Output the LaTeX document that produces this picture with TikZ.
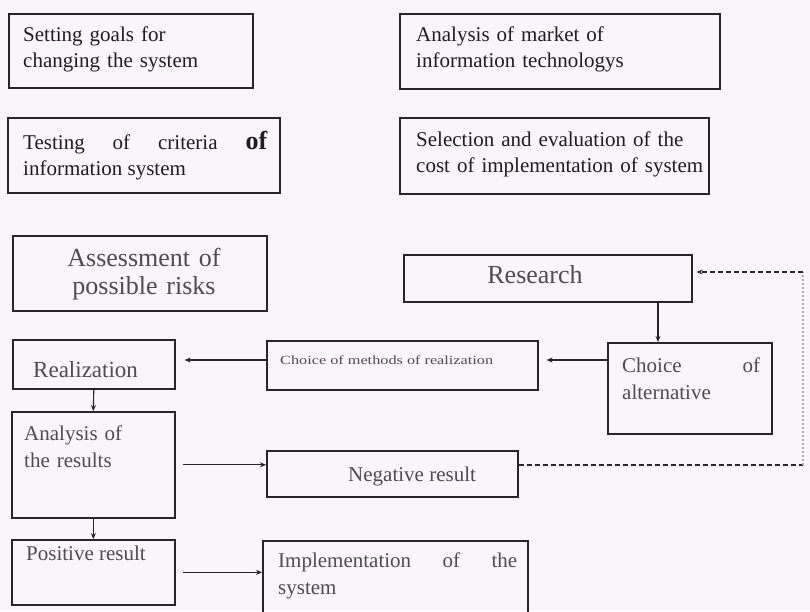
\documentclass[tikz,border=0pt]{standalone}
\usepackage{fontspec}
\setmainfont{Liberation Serif}
\newfontfamily\stretchfont[FakeStretch=1.3]{Liberation Serif}
\usetikzlibrary{arrows.meta}

\definecolor{paper}{RGB}{250,245,250}
\definecolor{ink}{RGB}{30,30,30}
\definecolor{softink}{RGB}{78,76,78}

\tikzset{
  frame/.style={draw=black!85, line width=1.6pt, inner sep=0pt, anchor=north west},
  label/.style={inner sep=0pt, anchor=base west, text=ink,
    font=\fontsize{21}{26}\selectfont},
  softlabel/.style={label, text=softink, font=\fontsize{21}{27}\selectfont},
  flow/.style={draw=black!85, line width=1.1pt, -{Stealth[length=6pt,width=5pt]}},
  feedback/.style={draw=black!85, line width=1.2pt, dashed, dash pattern=on 5pt off 3pt},
  nobreak/.style={execute at begin node={\hyphenpenalty=10000\exhyphenpenalty=10000}},
}

\begin{document}
\begin{tikzpicture}[x=1pt,y=-1pt]
  \fill[paper] (0,0) rectangle (810,611);
  \useasboundingbox (0,0) rectangle (810,611);
  \clip (0,0) rectangle (810,611);

  % upper row of boxes
  \node[frame, minimum width=244pt, minimum height=74pt] (goals) at (8,13) {};
  \node[frame, minimum width=320pt, minimum height=75pt] (market) at (399,13) {};
  \node[frame, minimum width=272pt, minimum height=75pt] (testing) at (7,117) {};
  \node[frame, minimum width=309pt, minimum height=76pt] (cost) at (399,117) {};

  \node[label, text width=230pt, align=left] (goalsT) at (23,41)
    {Setting goals for\\changing the system};
  \node[label, text width=300pt, align=left] (marketT) at (416,41)
    {Analysis of market of\\information technologys};
  \node[label, text width=244pt, align=justify, nobreak] (testingT) at (23,149)
    {Testing of criteria {\fontsize{26}{26}\selectfont\bfseries of} information system};
  \node[label, text width=290pt, align=left] (costT) at (416,146)
    {Selection and evaluation of the\\cost of implementation of system};

  % process boxes
  \node[frame, minimum width=254pt, minimum height=75pt] (risks) at (12,235) {};
  \node[frame, minimum width=288pt, minimum height=47pt] (research) at (403,254) {};
  \node[frame, minimum width=164pt, minimum height=91pt] (alt) at (607,342) {};
  \node[frame, minimum width=271pt, minimum height=49pt] (methods) at (266,340) {};
  \node[frame, minimum width=162pt, minimum height=49pt] (realiz) at (12,339) {};
  \node[frame, minimum width=163pt, minimum height=106pt] (analysis) at (11,411) {};
  \node[frame, minimum width=251pt, minimum height=46pt] (negative) at (266,450) {};
  \node[frame, minimum width=163pt, minimum height=65pt] (positive) at (11,539) {};
  \node[frame, minimum width=265pt, minimum height=90pt] (impl) at (262,540) {};

  \node[softlabel, anchor=base, text width=240pt, align=center,
        font=\fontsize{26}{28}\selectfont] (risksT) at (144,266)
    {Assessment of\\possible risks};
  \node[softlabel, anchor=base, font=\fontsize{26}{28}\selectfont] (researchT) at (535,283) {Research};
  \node[softlabel, font=\fontsize{23}{27}\selectfont] (realizT) at (33,377) {Realization};
  \node[softlabel, font=\stretchfont\fontsize{12.5}{14}\selectfont] (methodsT) at (280,364)
    {Choice of methods of realization};
  \node[softlabel, text width=138pt, align=justify, nobreak] (altT) at (622,372)
    {Choice of alternative};
  \node[softlabel, text width=140pt, align=left] (analysisT) at (24,440)
    {Analysis of\\the results};
  \node[softlabel] (negativeT) at (348,481) {Negative result};
  \node[softlabel] (positiveT) at (26,560) {Positive result};
  \node[softlabel, text width=239pt, align=justify, nobreak] (implT) at (278,567)
    {Implementation of the system};

  % guide coordinates for connector routing
  \coordinate (xdown) at (658,0);
  \coordinate (yalt) at (0,360);
  \coordinate (yneg) at (0,465);
  \coordinate (yres) at (0,272);
  \coordinate (loopB) at (803,465);
  \coordinate (loopT) at (803,272);

  % main flow
  \draw[flow] (research.south -| xdown) -- (alt.north -| xdown);
  \draw[flow, shorten >=8pt] (alt.west |- yalt) -- (methods.east |- yalt);
  \draw[flow, shorten >=9pt] (methods.west |- yalt) -- (realiz.east |- yalt);
  \draw[flow] (realiz.south) -- (analysis.north);
  \draw[flow, shorten <=7pt] (analysis.east) -- (analysis.east -| negative.west);
  \draw[flow] (analysis.south) -- (positive.north);
  \draw[flow, shorten <=7pt] (positive.east) -- (positive.east -| impl.west);

  % feedback loop from a negative result back to research
  \draw[feedback] (negative.east |- yneg) -- (loopB);
  \draw[black!30, line width=2pt, dotted] (loopB) -- (loopT);
  \draw[feedback, -{Stealth[length=6pt,width=5pt]}, shorten >=4pt] (loopT) -- (research.east |- yres);
\end{tikzpicture}
\end{document}
